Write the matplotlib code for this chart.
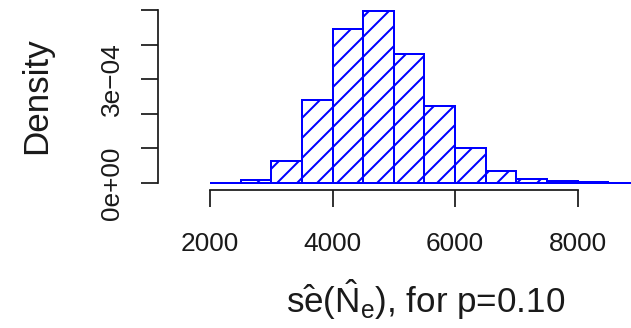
import numpy as np
import matplotlib
matplotlib.use("Agg")
import matplotlib.pyplot as plt

# histogram of se(N_e) estimates, density scale, bins of width 500
bin_edges = [2000, 2500, 3000, 3500, 4000, 4500, 5000, 5500, 6000, 6500, 7000, 7500, 8000, 8500, 9000]
density = [0.0, 8e-6, 6.4e-5, 2.40e-4, 4.46e-4, 4.97e-4, 3.72e-4, 2.23e-4, 1.00e-4, 3.6e-5, 1.2e-5, 6e-6, 2e-6, 1e-6]

x_ticks = [2000, 4000, 6000, 8000]
x_labels = ["2000", "4000", "6000", "8000"]
y_ticks = [0, 1e-4, 2e-4, 3e-4, 4e-4, 5e-4]
y_labels = ["0e+00", "", "", "3e\u221204", "", ""]

plt.rcParams["font.family"] = ["Liberation Sans", "DejaVu Sans"]
plt.rcParams["mathtext.fontset"] = "custom"
plt.rcParams["mathtext.rm"] = "Liberation Sans"
plt.rcParams["mathtext.it"] = "Liberation Sans:italic"
plt.rcParams["hatch.linewidth"] = 0.8

DPI = 180
W, H = 631, 328
fig = plt.figure(figsize=(W / DPI, H / DPI), dpi=DPI)

# axes box in pixels: left spine at x=158, bottom spine at y=190, top at y=5
ax = fig.add_axes([158 / W, (H - 190) / H, 1 - 158 / W, (190 - 5) / H])

lefts = bin_edges[:-1]
widths = np.diff(bin_edges)
ax.bar(lefts, density, width=widths, align="edge", facecolor="none",
       edgecolor="#0000ff", hatch="///", linewidth=0.8)

px_x = (577.7 - 210) / 6000.0
ax.set_xlim(2000 - (210 - 158) / px_x, 8000 + (W - 577.7) / px_x)
px_y = 34.6 / 1e-4
ax.set_ylim(-(190 - 183) / px_y, 5e-4 + (10 - 5) / px_y)

for s in ["top", "right"]:
    ax.spines[s].set_visible(False)
ax.spines["left"].set_bounds(0, 5e-4)
ax.spines["bottom"].set_bounds(2000, 8000)
for s in ["left", "bottom"]:
    ax.spines[s].set_linewidth(0.7)
    ax.spines[s].set_color("#1a1a1a")

ax.set_xticks(x_ticks)
ax.set_xticklabels(x_labels)
ax.set_yticks(y_ticks)
ax.set_yticklabels(y_labels, rotation=90, va="center")
ax.tick_params(axis="both", direction="out", length=6.8, width=0.7,
               color="#1a1a1a", labelsize=10.5, labelcolor="#1a1a1a")
ax.tick_params(axis="x", pad=10)
ax.tick_params(axis="y", pad=7)

fig.text(37 / W, 1 - 96 / H, "Density", rotation=90, ha="center", va="center",
         fontsize=14, color="#1a1a1a")
fig.text(426 / W, 1 - 300 / H,
         r"$\hat{\mathrm{se}}(\hat{\mathrm{N}}_{\mathrm{e}})$, for p=0.10",
         ha="center", va="center", fontsize=14, color="#1a1a1a")

fig.savefig("out.png", dpi=DPI)
